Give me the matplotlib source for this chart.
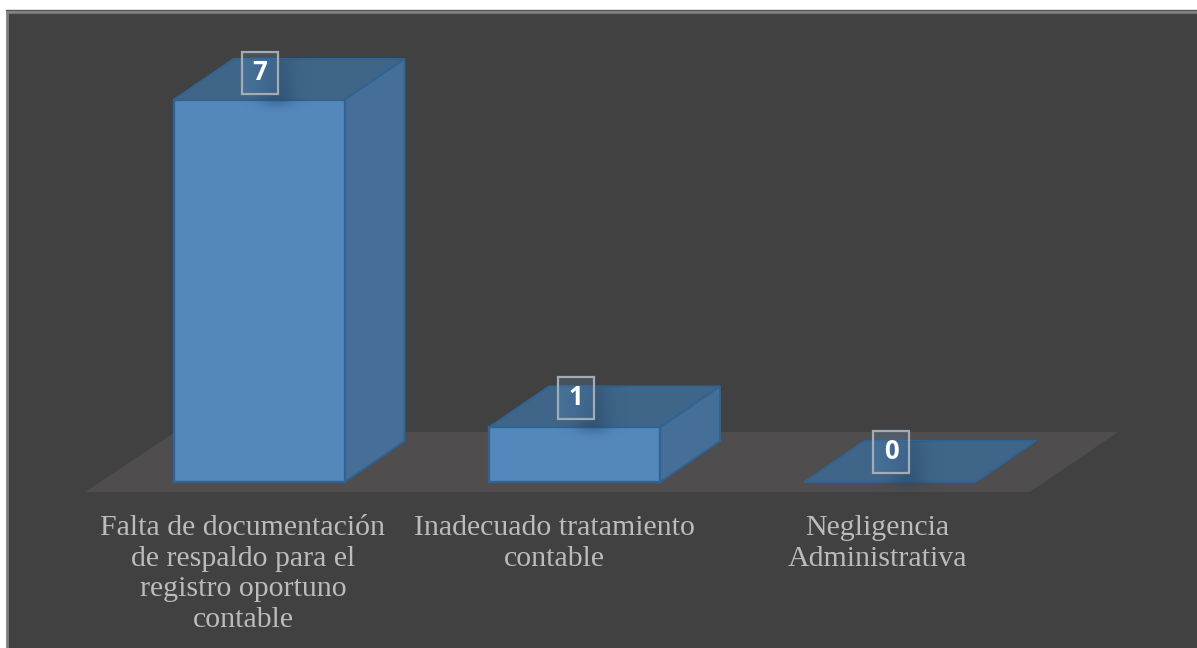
import numpy as np
import matplotlib
matplotlib.use("Agg")
import matplotlib.pyplot as plt
from matplotlib.patches import Polygon, Rectangle

categories = ["Falta de documentación\nde respaldo para el\nregistro oportuno\ncontable",
              "Inadecuado tratamiento\ncontable",
              "Negligencia\nAdministrativa"]
values = [7, 1, 0]

W, H = 1197, 648
BASE_PX, UNIT_PX = 482, 54.57
X0_PX, STEP_PX = 259, 315.5
fig = plt.figure(figsize=(W/100, H/100), dpi=100, facecolor="white")
ax = fig.add_axes([0, 0, 1, 1])
ax.axis("off")

def X(px): return (px-X0_PX)/STEP_PX
def Y(py): return (BASE_PX-py)/UNIT_PX

# panel and border
ax.add_patch(Rectangle((X(7), Y(H+8)), X(W+8)-X(7), Y(12)-Y(H+8), fc="#414141", ec="#7f7f7f", lw=2, zorder=1))
ax.plot([X(6), X(W+8)], [Y(10.5), Y(10.5)], color="#555555", lw=1, zorder=1.1)

# floor
floor = [(85, 492), (1030, 492), (1118, 432), (175, 432)]
ax.add_patch(Polygon([(X(a), Y(b)) for a, b in floor], fc="#4f4d4d", ec="none", zorder=2))

half = 85.5/STEP_PX
dx, dy = 60/STEP_PX, 41/UNIT_PX
edge = "#2f6493"
labelw, labelh = 36/STEP_PX, 42/UNIT_PX
label_centers = [1/STEP_PX + i for i in range(3)]
label_lift = [27.5, 29.5, 30.5]
text_offsets = [-16, -20, -13]
below = 14/UNIT_PX

for i, (cat, v) in enumerate(zip(categories, values)):
    l, r = i-half, i+half
    ax.add_patch(Polygon([(l, v), (r, v), (r+dx, v+dy), (l+dx, v+dy)], fc="#3f6689", ec=edge, lw=1.4, zorder=4, joinstyle="round"))
    if v > 0:
        ax.add_patch(Polygon([(r, 0), (r+dx, dy), (r+dx, v+dy), (r, v)], fc="#466f98", ec=edge, lw=1.4, zorder=4))
        ax.add_patch(Rectangle((l, 0), r-l, v, fc="#5488bd", ec=edge, lw=1.7, zorder=5))
    # soft shadow falling behind the data label, on the top face and just below its front edge
    cx = i + 18/STEP_PX
    n = 120
    xs = np.linspace(-1, 1, n)
    ys = np.linspace(v-below, v+dy, n)
    gx, gy = np.meshgrid(xs, ys)
    prof = np.where(gy < v, ((gy-(v-below))/below)**1.5, 1 - 0.35*(gy-v)/dy)
    alpha = np.exp(-(gx/0.5)**2) * prof * 0.42
    rgba = np.zeros((n, n, 4))
    rgba[..., :3] = (0.13, 0.25, 0.38)
    rgba[..., 3] = alpha
    im = ax.imshow(rgba, extent=(cx-36/STEP_PX, cx+36/STEP_PX, v-below, v+dy), aspect="auto", zorder=5.5, origin="lower")
    clip = Polygon([(l, v-below), (r, v-below), (r, v), (r+dx, v+dy), (l+dx, v+dy), (l, v)], transform=ax.transData)
    im.set_clip_path(clip)
    # data label
    lx = label_centers[i]
    ly = v + label_lift[i]/UNIT_PX
    ax.add_patch(Rectangle((lx-labelw/2, ly-labelh/2), labelw, labelh, fc=(0.40, 0.60, 0.80, 0.20), ec="#a4acb3", lw=1.6, zorder=6))
    ax.text(lx, ly, str(v), color="white", fontsize=18.5, fontweight="bold", family="Open Sans", ha="center", va="center", zorder=7)
    ax.text(i + text_offsets[i]/STEP_PX, Y(515), cat, color="#bcbcbc", fontsize=21.5,
            family="Liberation Serif", ha="center", va="top", linespacing=1.23, zorder=3)

ax.set_xlim(X(0), X(W))
ax.set_ylim(Y(H), Y(0))
fig.savefig("out.png", dpi=100, facecolor="white")
